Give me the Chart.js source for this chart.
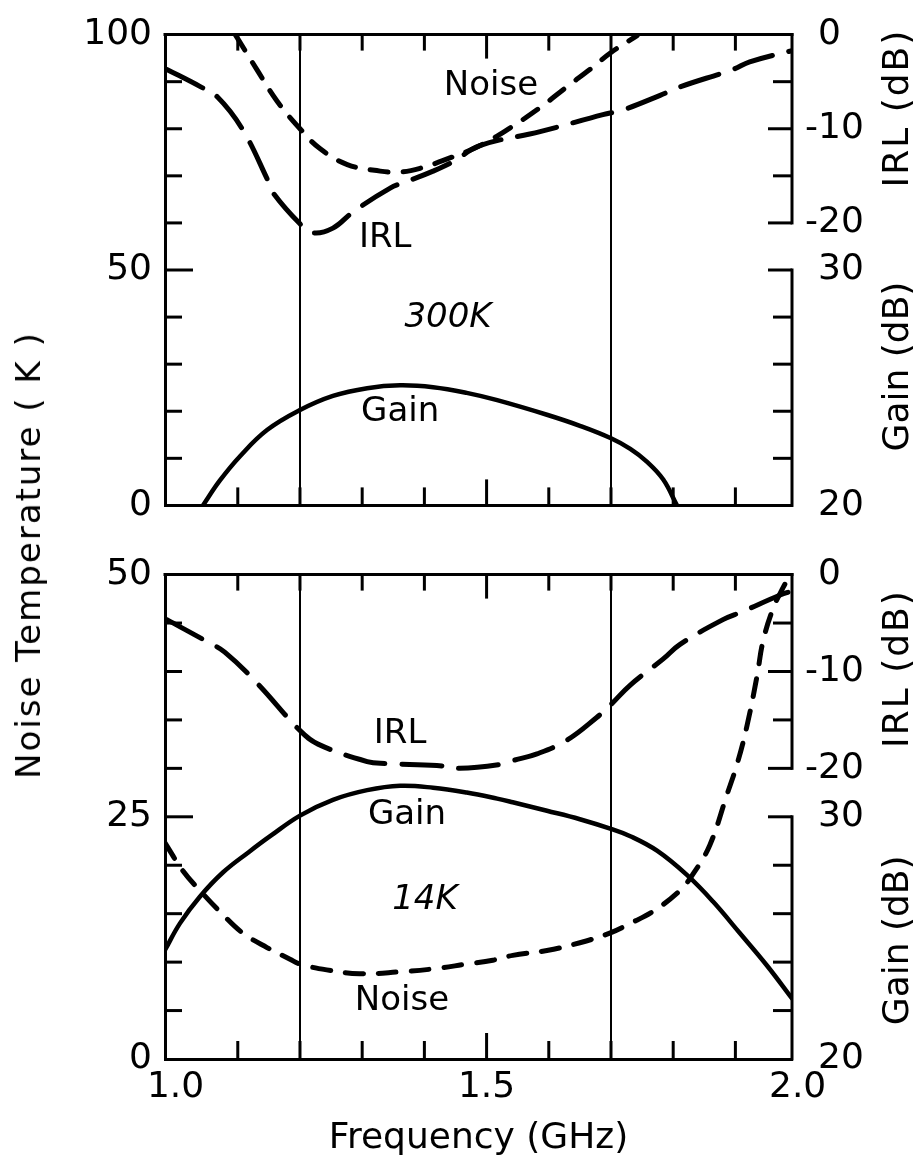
<!DOCTYPE html>
<html>
<head>
<meta charset="utf-8">
<script src="https://cdn.jsdelivr.net/npm/chart.js@4/dist/chart.umd.min.js"></script>
<style>
  html, body { margin: 0; padding: 0; background: #fff; }
  body { width: 923px; height: 1171px; position: relative; overflow: hidden; font-family: "DejaVu Sans", sans-serif; }
  canvas { position: absolute; left: 0; }
  #hot { top: 0; }
  #cold { top: 540px; }
  #ytitle {
    position: absolute; left: 28px; top: 555px;
    transform: translate(-50%, -50%) rotate(-90deg);
    white-space: nowrap; font-size: 34px; letter-spacing: 2px; color: #000;
  }
</style>
</head>
<body>
<canvas id="hot" width="923" height="540"></canvas>
<canvas id="cold" width="923" height="631"></canvas>
<div id="ytitle">Noise Temperature ( K )</div>
<script>
const FONT = '"DejaVu Sans", sans-serif';

// frequency axis (GHz); the drawn frame runs a little wider than 1.0 .. 2.0
const freqMin = 0.983, freqMax = 1.991;
const freqTicks = [1.0, 1.1, 1.2, 1.3, 1.4, 1.5, 1.6, 1.7, 1.8, 1.9, 2.0];
const freqLabels = [1.0, 1.5, 2.0];
const bandEdges = [1.2, 1.7];

// right hand axes, same in both panels
const irlTicks = [-5, -10, -15, -20];
const irlLabels = [0, -10, -20];
const gainTicks = [22, 24, 26, 28, 30];
const gainLabels = [30, 20];

// 300 K panel
const hotTempLabels = [0, 50, 100];
const hotNoiseF = [1.096, 1.131, 1.163, 1.2, 1.232, 1.276, 1.329, 1.361, 1.393, 1.441, 1.489, 1.538, 1.586, 1.629, 1.671, 1.7, 1.742];
const hotNoiseK = [100, 92.5, 85.9, 80.0, 75.8, 72.4, 71.0, 70.8, 71.6, 73.8, 76.4, 80.2, 84.5, 88.9, 93.1, 96.2, 99.8];
const hotIrlF = [0.986, 1.039, 1.067, 1.107, 1.147, 1.155, 1.2, 1.221, 1.253, 1.285, 1.345, 1.372, 1.414, 1.446, 1.489, 1.586, 1.687, 1.719, 1.779, 1.811, 1.896, 1.923, 1.991];
const hotIrlDb = [-3.7, -5.5, -6.6, -10.0, -15.3, -16.65, -20.1, -21.05, -20.55, -18.85, -16.3, -15.6, -14.5, -13.5, -11.8, -10.3, -8.5, -8.0, -6.45, -5.55, -3.7, -2.9, -1.7];
const hotGainF = [1.044, 1.071, 1.104, 1.147, 1.2, 1.253, 1.308, 1.361, 1.414, 1.468, 1.517, 1.597, 1.65, 1.7, 1.731, 1.758, 1.784, 1.806];
const hotGainDb = [20.0, 21.05, 22.1, 23.2, 24.05, 24.65, 24.98, 25.1, 25.02, 24.78, 24.47, 23.85, 23.38, 22.85, 22.4, 21.85, 21.1, 20.0];

// 14 K panel
const coldTempLabels = [0, 25, 50];
const coldNoiseF = [0.983, 1.012, 1.039, 1.076, 1.108, 1.147, 1.184, 1.2, 1.243, 1.296, 1.361, 1.414, 1.468, 1.51, 1.542, 1.597, 1.65, 1.698, 1.731, 1.768, 1.811, 1.832, 1.859, 1.886, 1.903, 1.919, 1.935, 1.944, 1.96, 1.977, 1.988];
const coldNoiseK = [22.3, 19.4, 17.4, 14.9, 13.0, 11.5, 10.3, 9.8, 9.2, 8.8, 9.0, 9.3, 9.8, 10.2, 10.7, 11.2, 12.0, 13.0, 14.0, 15.25, 17.4, 19.1, 22.1, 27.2, 30.5, 34.5, 39.6, 43.0, 46.4, 48.7, 49.9];
const coldIrlF = [0.986, 1.05, 1.079, 1.131, 1.2, 1.229, 1.308, 1.337, 1.42, 1.457, 1.522, 1.542, 1.581, 1.629, 1.677, 1.7, 1.731, 1.784, 1.811, 1.88, 1.912, 1.972, 1.991];
const coldIrlDb = [-4.65, -6.9, -8.0, -11.2, -16.1, -17.5, -19.3, -19.5, -19.7, -20.0, -19.6, -19.2, -18.5, -17.1, -14.75, -13.4, -11.4, -8.7, -7.2, -4.65, -3.8, -2.1, -1.7];
const coldGainF = [0.983, 1.007, 1.039, 1.076, 1.118, 1.152, 1.2, 1.253, 1.308, 1.361, 1.414, 1.468, 1.517, 1.542, 1.597, 1.65, 1.7, 1.731, 1.774, 1.822, 1.864, 1.907, 1.951, 1.991];
const coldGainDb = [24.5, 25.6, 26.7, 27.7, 28.55, 29.2, 30.05, 30.7, 31.1, 31.28, 31.2, 31.0, 30.75, 30.6, 30.25, 29.9, 29.5, 29.2, 28.6, 27.6, 26.5, 25.2, 23.85, 22.5];

const near = (list, v) => list.some(m => Math.abs(m - v) < 1e-6);
const pts = (f, v) => f.map((x, i) => ({ x: x, y: v[i] }));

// frame top edge, inward ticks, the split right axes and the curve labels
const decor = {
  id: 'decor',
  afterDraw(chart, args, o) {
    const { ctx, chartArea: a, scales } = chart;
    const xs = scales.x, ys = scales.y;
    const seg = (x1, y1, x2, y2) => { ctx.beginPath(); ctx.moveTo(x1, y1); ctx.lineTo(x2, y2); ctx.stroke(); };
    ctx.save();
    ctx.strokeStyle = '#000';
    ctx.fillStyle = '#000';
    ctx.lineWidth = 3;

    seg(a.left - 1.5, a.top, a.right + 1.5, a.top);

    // 1.0 and 2.0 sit on the frame itself
    freqTicks.slice(1, -1).forEach(v => {
      const px = xs.getPixelForValue(v);
      const len = near(freqLabels, v) ? 26 : 18;
      seg(px, a.bottom, px, a.bottom - len);
      seg(px, a.top, px, a.top + len - 2);
    });

    ys.ticks.forEach(t => {
      if (t.value <= ys.min || t.value >= ys.max) return;
      const py = ys.getPixelForValue(t.value);
      seg(a.left, py, a.left + (o.tempLabels.includes(t.value) ? 28 : 17), py);
    });

    ctx.textBaseline = 'middle';
    o.right.forEach(r => {
      const s = scales[r.id];
      seg(a.right, s.getPixelForValue(r.from) - 1.5, a.right, s.getPixelForValue(r.to) + 1.5);
      r.ticks.forEach(v => {
        const py = s.getPixelForValue(v);
        seg(a.right, py, a.right - (r.labels.includes(v) ? 24 : 19), py);
      });
      ctx.font = '36px ' + FONT;
      ctx.textAlign = 'left';
      r.labels.forEach(v => {
        const dx = v < 0 ? ctx.measureText('-').width : 0;
        ctx.fillText(String(v), a.right + 26 - dx, s.getPixelForValue(v));
      });
      ctx.save();
      ctx.translate(a.right + 107, s.getPixelForValue(r.titleAt));
      ctx.rotate(-Math.PI / 2);
      ctx.textAlign = 'center';
      if (r.spacing) ctx.letterSpacing = r.spacing;
      ctx.fillText(r.title, 0, 0);
      ctx.restore();
    });

    ctx.textAlign = 'center';
    o.notes.forEach(n => {
      ctx.font = (n.italic ? 'italic ' : '') + '34px ' + FONT;
      ctx.fillText(n.text, xs.getPixelForValue(n.f), ys.getPixelForValue(n.k));
    });
    ctx.restore();
  }
};

function makePanel(id, p) {
  const line = { borderColor: '#000', pointRadius: 0, fill: false, tension: 0.4, borderCapStyle: 'round' };
  return new Chart(document.getElementById(id), {
    type: 'line',
    data: {
      datasets: [
        Object.assign({ label: 'Noise', data: pts(p.noiseF, p.noiseK), yAxisID: 'y', borderWidth: 5, borderDash: [18, 15] }, line),
        Object.assign({ label: 'IRL', data: pts(p.irlF, p.irlDb), yAxisID: 'irl', borderWidth: 5, borderDash: [40, 17] }, line),
        Object.assign({ label: 'Gain', data: pts(p.gainF, p.gainDb), yAxisID: 'gain', borderWidth: 4.5 }, line)
      ]
    },
    options: {
      responsive: false,
      animation: false,
      devicePixelRatio: 1,
      events: [],
      layout: { padding: { left: 0, right: 131, top: p.padTop, bottom: 0 } },
      scales: {
        x: {
          type: 'linear', min: freqMin, max: freqMax,
          afterBuildTicks: s => { s.ticks = freqTicks.map(v => ({ value: v })); },
          afterFit: s => { s.height = p.xHeight; },
          border: { display: true, color: '#000', width: 3 },
          grid: {
            drawTicks: false, lineWidth: 2,
            color: c => (c.tick && near(bandEdges, c.tick.value)) ? '#000' : 'rgba(0,0,0,0)'
          },
          ticks: {
            display: p.showFreq, autoSkip: false, maxRotation: 0, padding: 7,
            color: '#000', font: { size: 36, family: FONT },
            callback: v => near(freqLabels, v) ? v.toFixed(1) : ''
          },
          title: {
            display: p.showFreq, text: 'Frequency (GHz)', color: '#000',
            font: { size: 36, family: FONT }, padding: { top: 0, bottom: 11 }
          }
        },
        y: {
          type: 'linear', position: 'left', min: 0, max: p.tempMax,
          afterFit: s => { s.width = 165; },
          border: { display: true, color: '#000', width: 3 },
          grid: { drawOnChartArea: false, drawTicks: false },
          ticks: {
            stepSize: p.tempStep, padding: 13, color: '#000', font: { size: 36, family: FONT },
            callback: v => p.tempLabels.includes(v) ? String(v) : ''
          }
        },
        irl: { type: 'linear', position: 'right', display: false, min: -50, max: 0 },
        gain: { type: 'linear', position: 'right', display: false, min: 20, max: 40 }
      },
      plugins: {
        legend: { display: false },
        tooltip: { enabled: false },
        decor: {
          tempLabels: p.tempLabels,
          notes: p.notes,
          right: [
            { id: 'irl', from: 0, to: -20, ticks: irlTicks, labels: irlLabels, title: 'IRL (dB)', titleAt: p.irlTitleAt, spacing: '2px' },
            { id: 'gain', from: 30, to: 20, ticks: gainTicks, labels: gainLabels, title: 'Gain (dB)', titleAt: p.gainTitleAt }
          ]
        }
      }
    },
    plugins: [decor]
  });
}

makePanel('hot', {
  noiseF: hotNoiseF, noiseK: hotNoiseK, irlF: hotIrlF, irlDb: hotIrlDb, gainF: hotGainF, gainDb: hotGainDb,
  tempMax: 100, tempStep: 10, tempLabels: hotTempLabels,
  padTop: 23, xHeight: 21, showFreq: false,
  irlTitleAt: -7.8, gainTitleAt: 25.9,
  notes: [
    { text: 'Noise', f: 1.507, k: 89.1 },
    { text: 'IRL', f: 1.337, k: 56.7 },
    { text: '300K', f: 1.438, k: 39.7, italic: true },
    { text: 'Gain', f: 1.361, k: 19.8 }
  ]
});

makePanel('cold', {
  noiseF: coldNoiseF, noiseK: coldNoiseK, irlF: coldIrlF, irlDb: coldIrlDb, gainF: coldGainF, gainDb: coldGainDb,
  tempMax: 50, tempStep: 5, tempLabels: coldTempLabels,
  padTop: 24, xHeight: 112, showFreq: true,
  irlTitleAt: -9.7, gainTitleAt: 24.9,
  notes: [
    { text: 'IRL', f: 1.361, k: 33.5 },
    { text: 'Gain', f: 1.372, k: 25.2 },
    { text: '14K', f: 1.401, k: 16.4, italic: true },
    { text: 'Noise', f: 1.364, k: 6.0 }
  ]
});
</script>
</body>
</html>
